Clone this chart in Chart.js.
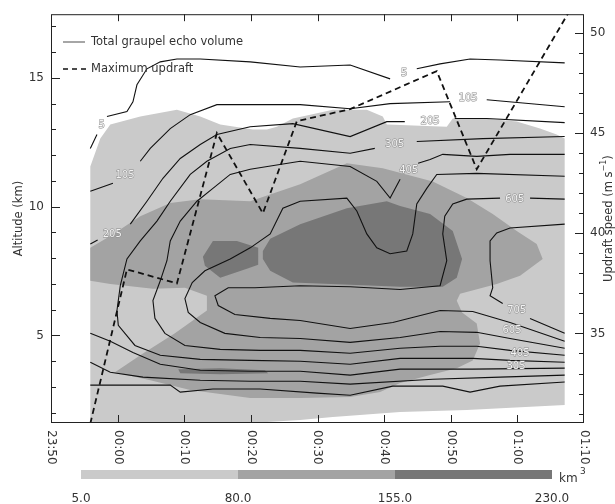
<!DOCTYPE html>
<html>
<head>
<meta charset="utf-8">
<script src="https://cdn.jsdelivr.net/npm/chart.js@4.4.1/dist/chart.umd.min.js"></script>
<style>
  html, body { margin: 0; padding: 0; background: #fff; }
</style>
</head>
<body>
<canvas id="myChart" width="615" height="504"></canvas>
<script>
// time axis in minutes after 23:50
const timeTicks = [0, 10, 20, 30, 40, 50, 60, 70, 80];
const timeLabels = ['23:50', '00:00', '00:10', '00:20', '00:30', '00:40', '00:50', '01:00', '01:10'];
const altitudeTicks = [5, 10, 15];
const updraftTicks = [35, 40, 45, 50];
const colorLevels = [5.0, 80.0, 155.0, 230.0];
const legendLabels = ['Total graupel echo volume', 'Maximum updraft'];

// maximum updraft (m/s)
const updraftTime = [5.9, 11.4, 18.9, 24.9, 31.8, 36.9, 44.9, 57.9, 63.9, 78];
const updraftSpeed = [30.5, 38.2, 37.5, 45.0, 41.0, 45.6, 46.2, 48.1, 43.2, 51.2];

// shaded graupel echo areas, [time, altitude km]
const lightArea = [[5.9,1.5],[5.9,11.56],[7.4,12.64],[8.9,13.19],[13.4,13.5],[18.9,13.76],[22.4,13.5],[25.4,13.19],[30.3,12.99],[32.4,12.99],[33.9,13.1],[36.3,13.42],[38.9,13.57],[42.3,13.76],[47.4,13.76],[49.8,13.5],[50.4,13.19],[59.4,13.1],[60.3,13.42],[64.8,13.42],[69.9,13.3],[73.4,13.03],[75.9,12.8],[77.1,12.64],[77.1,2.3],[62.4,2.1],[52.4,2.03],[42.3,1.83],[37.4,1.72],[29.9,1.6],[29.9,1.5],[5.9,1.5]];
const midArea = [[5.9,8.4],[8.9,8.86],[13.4,9.63],[17.9,10.14],[22.4,10.29],[29.9,10.21],[37.4,10.87],[44.4,11.68],[49.8,11.49],[57.3,10.98],[62.4,10.33],[66.3,9.71],[69.9,9.05],[72.9,8.55],[73.8,7.97],[70.4,7.32],[66.9,7.0],[61.4,6.62],[60.9,6.35],[61.7,5.89],[63.9,5.46],[64.4,4.69],[63.3,4.03],[60.9,3.73],[56.9,3.46],[52.4,3.15],[49.4,2.8],[44.9,2.61],[37.4,2.57],[29.9,2.57],[20.9,2.88],[14.9,3.26],[9.6,3.57],[13.4,4.23],[18.6,5.08],[23.4,5.97],[23.4,6.54],[20.1,6.85],[15.3,6.81],[8.9,7.0],[5.9,7.12],[5.9,8.4]];
const darkArea = [[31.8,8.28],[32.9,8.75],[37.4,9.32],[44.4,9.94],[50.4,10.21],[52.4,10.02],[56.9,9.71],[60.3,9.05],[61.7,7.97],[60.9,7.24],[58.8,6.89],[52.4,6.89],[44.9,6.97],[36.3,7.05],[32.9,7.51],[31.8,7.97],[31.8,8.28]];
const darkSmall = [[22.8,8.05],[24.3,8.67],[27.9,8.67],[31.1,8.4],[31.1,7.74],[29.4,7.59],[25.4,7.24],[23.1,7.7],[22.8,8.05]];
const darkStreak = [[19.1,3.69],[25.4,3.73],[32.1,3.65],[32.6,3.53],[25.4,3.49],[19.4,3.53],[19.1,3.69]];

// contour lines, null = break (label or separate piece)
const contour5 = [[5.9,12.26],[6.9,12.8],null,[8.4,13.5],[11.4,13.69],[12.3,14.07],[12.9,14.73],[14.4,15.35],[16.4,15.62],[18.9,15.73],[22.4,15.73],[29.9,15.62],[37.4,15.42],[44.9,15.5],[50.9,14.96],null,[54.9,15.35],[58.4,15.54],[62.9,15.73],[67.4,15.69],[77.1,15.58],
  null,[5.9,3.07],[17.9,3.07],[19.4,2.8],[24.3,2.92],[31.4,2.92],[39.9,2.76],[44.9,2.68],[51.3,3.03],[58.8,3.03],[62.9,2.8],[67.4,3.03],[77.1,3.19]];
const contour105 = [[5.9,10.6],[9.3,10.91],null,[13.4,11.76],[14.9,12.26],[17.9,13.03],[20.9,13.57],[24.9,13.96],[37.4,13.96],[44.9,13.8],[50.9,14.0],[59.9,14.07],null,[65.4,14.15],[77.1,13.88],
  null,[5.9,3.96],[8.9,3.57],[13.8,3.38],[22.4,3.26],[29.9,3.22],[37.4,3.22],[44.9,3.11],[57.3,3.3],[67.4,3.38],[77.1,3.46]];
const contour205 = [[5.9,8.55],[7.0,8.7],null,[11.9,9.32],[14.4,10.21],[16.8,11.1],[19.4,11.87],[22.4,12.41],[24.9,12.8],[29.9,13.1],[36.3,13.22],[44.9,12.72],[50.4,13.3],[53.1,13.3],null,[60.6,13.42],[65.4,13.42],[77.1,13.26],
  null,[5.9,5.08],[8.9,4.77],[12.3,4.34],[16.4,3.88],[22.4,3.65],[29.9,3.61],[37.4,3.61],[44.9,3.46],[52.4,3.69],[63.3,3.69],[77.1,3.73]];
const contour305 = [[77.1,12.72],[64.8,12.64],[54.9,12.53],null,[48.6,12.26],[44.9,12.07],[37.4,12.26],[29.9,12.41],[26.9,12.26],[23.4,11.76],[20.9,11.25],[17.9,10.21],[15.9,9.44],[13.4,8.67],[11.4,7.97],[10.4,6.93],[9.9,5.97],[10.1,5.39],[12.6,4.61],[16.4,4.23],[22.4,4.07],[29.9,4.03],[37.4,4.0],[44.9,3.88],[52.4,4.11],[63.3,4.11],[68.9,4.03],[77.1,3.96]];
const contour405 = [[77.1,12.03],[68.9,12.03],[63.9,11.95],[58.8,12.03],[56.9,11.83],[55.1,11.68],null,[52.4,11.06],[50.9,10.33],[48.9,10.98],[44.9,11.56],[37.4,11.76],[29.9,11.45],[26.9,11.25],[24.3,10.71],[21.9,10.21],[19.4,9.44],[17.9,8.67],[17.4,7.9],[16.4,7.12],[15.3,6.35],[15.6,5.66],[17.1,5.08],[20.1,4.61],[25.4,4.46],[31.4,4.42],[37.4,4.42],[44.9,4.31],[52.4,4.5],[58.4,4.58],[63.9,4.58],[68.9,4.42],[77.1,4.23]];
const contour505 = [[77.1,11.18],[63.9,11.29],[57.9,11.25],[56.4,10.71],[54.9,10.1],[54.3,8.94],[53.4,8.28],[50.9,8.17],[48.9,8.4],[47.4,8.94],[45.9,9.83],[44.4,10.33],[37.4,10.21],[34.8,9.94],[32.9,8.94],[29.9,8.4],[26.9,7.97],[23.1,7.51],[21.2,7.05],[20.1,6.43],[20.6,5.89],[22.4,5.5],[26.1,5.08],[31.4,4.92],[37.4,4.88],[44.9,4.73],[52.4,4.92],[58.4,5.15],[63.9,5.12],[68.9,4.88],[77.1,4.5]];
const contour605 = [[77.1,10.29],[71.9,10.33],null,[67.4,10.33],[62.4,10.29],[60.3,10.1],[59.1,9.63],[58.8,8.94],[59.4,7.9],[58.4,6.93],[52.4,6.78],[44.9,6.89],[37.4,6.93],[30.6,6.85],[26.6,6.85],[24.6,6.54],[25.1,6.16],[27.6,5.81],[32.9,5.66],[37.4,5.58],[44.9,5.27],[51.3,5.5],[58.4,5.97],[63.3,5.93],[68.9,5.5],[77.1,4.77]];
const contour705 = [[77.1,9.32],[68.9,9.17],[66.9,8.98],[65.9,8.67],[65.9,7.9],[66.3,6.85],[65.9,6.54],[67.8,6.24],null,[71.9,5.66],[77.1,5.08]];

// contour labels: [text, time, altitude]
const contourLabels = [
  ['5', 7.6, 13.15], ['105', 11.1, 11.22], ['205', 9.2, 8.94],
  ['5', 53.0, 15.19], ['105', 62.6, 14.19], ['205', 56.9, 13.3], ['305', 51.6, 12.41], ['405', 53.7, 11.41],
  ['605', 69.6, 10.29], ['705', 69.9, 5.97], ['605', 69.2, 5.2], ['405', 70.4, 4.3], ['305', 69.8, 3.8]
];

const shadeColors = ['#cacaca', '#a3a3a3', '#777777'];
const FONT = '"DejaVu Sans", sans-serif';

function toPoints(list) {
  let pts = [];
  let last = 0;
  for (let i = 0; i < list.length; i++) {
    let p = list[i];
    if (p === null) {
      pts.push({x: last, y: null});
    } else {
      pts.push({x: p[0], y: p[1]});
      last = p[0];
    }
  }
  return pts;
}

function shade(data, color, order) {
  return {
    data: toPoints(data), yAxisID: 'y', order: order,
    fill: 'shape', backgroundColor: color, borderWidth: 0, borderColor: color,
    pointRadius: 0, tension: 0
  };
}

function contour(data) {
  return {
    data: toPoints(data), yAxisID: 'y', order: 10,
    fill: false, borderColor: '#111', borderWidth: 1.1,
    pointRadius: 0, tension: 0, spanGaps: false
  };
}

let updraftPoints = [];
for (let i = 0; i < updraftTime.length; i++) {
  updraftPoints.push({x: updraftTime[i], y: updraftSpeed[i]});
}

const extras = {
  id: 'extras',
  afterDatasetsDraw(chart) {
    const ctx = chart.ctx;
    const a = chart.chartArea;
    const xs = chart.scales.x, ys = chart.scales.y, y2 = chart.scales.y2;
    ctx.save();

    // contour labels
    ctx.font = '10px ' + FONT;
    ctx.textAlign = 'center';
    ctx.textBaseline = 'middle';
    contourLabels.forEach(l => {
      const px = xs.getPixelForValue(l[1]), py = ys.getPixelForValue(l[2]);
      ctx.lineWidth = 1;
      ctx.strokeStyle = '#8c8c8c';
      ctx.strokeText(l[0], px, py);
      ctx.fillStyle = '#f2f2f2';
      ctx.fillText(l[0], px, py);
    });

    // frame
    ctx.strokeStyle = '#222';
    ctx.lineWidth = 1;
    ctx.strokeRect(a.left + 0.5, a.top + 0.5, a.right - a.left - 1, a.bottom - a.top - 1);

    // tick marks (inside)
    ctx.beginPath();
    for (let v = 2; v <= 17; v++) {
      const py = Math.round(ys.getPixelForValue(v)) + 0.5;
      const len = v % 5 === 0 ? 9 : 5;
      ctx.moveTo(a.left, py); ctx.lineTo(a.left + len, py);
    }
    for (let v = 31; v <= 50; v++) {
      const py = Math.round(y2.getPixelForValue(v)) + 0.5;
      const len = v % 5 === 0 ? 9 : 5;
      ctx.moveTo(a.right, py); ctx.lineTo(a.right - len, py);
    }
    timeTicks.slice(1, -1).forEach(t => {
      const px = Math.round(xs.getPixelForValue(t)) + 0.5;
      ctx.moveTo(px, a.bottom); ctx.lineTo(px, a.bottom - 8);
      ctx.moveTo(px, a.top); ctx.lineTo(px, a.top + 7);
    });
    ctx.stroke();

    // time labels, rotated
    ctx.fillStyle = '#333';
    ctx.font = '12px ' + FONT;
    ctx.textAlign = 'left';
    ctx.textBaseline = 'middle';
    timeTicks.forEach((t, i) => {
      ctx.save();
      ctx.translate(xs.getPixelForValue(t), a.bottom + 7);
      ctx.rotate(Math.PI / 2);
      ctx.fillText(timeLabels[i], 0, 0);
      ctx.restore();
    });

    // axis titles
    const midY = (a.top + a.bottom) / 2;
    ctx.save();
    ctx.translate(19, midY);
    ctx.rotate(-Math.PI / 2);
    ctx.textAlign = 'center';
    ctx.font = '11.5px ' + FONT;
    ctx.fillText('Altitude (km)', 0, 0);
    ctx.restore();

    ctx.save();
    ctx.translate(609, midY);
    ctx.rotate(-Math.PI / 2);
    ctx.font = '11.5px ' + FONT;
    const t1 = 'Updraft speed (m s', t2 = '\u22121', t3 = ')';
    const w1 = ctx.measureText(t1).width;
    const w3 = ctx.measureText(t3).width;
    ctx.font = '8px ' + FONT;
    const w2 = ctx.measureText(t2).width;
    let sx = -(w1 + w2 + w3) / 2;
    ctx.textAlign = 'left';
    ctx.font = '11.5px ' + FONT;
    ctx.fillText(t1, sx, 0);
    ctx.font = '8px ' + FONT;
    ctx.fillText(t2, sx + w1, -5);
    ctx.font = '11.5px ' + FONT;
    ctx.fillText(t3, sx + w1 + w2, 0);
    ctx.restore();

    // legend
    ctx.lineWidth = 1.5;
    ctx.strokeStyle = '#888';
    ctx.beginPath(); ctx.moveTo(63, 42); ctx.lineTo(85, 42); ctx.stroke();
    ctx.strokeStyle = '#111';
    ctx.setLineDash([5, 4]);
    ctx.beginPath(); ctx.moveTo(63, 69); ctx.lineTo(86, 69); ctx.stroke();
    ctx.setLineDash([]);
    ctx.font = '11.5px ' + FONT;
    ctx.fillStyle = '#333';
    ctx.textAlign = 'left';
    ctx.fillText(legendLabels[0], 91, 42);
    ctx.fillText(legendLabels[1], 91, 69);

    // colour bar
    const barL = 81, barR = 552, barT = 470, barH = 9;
    const lo = colorLevels[0], hi = colorLevels[colorLevels.length - 1];
    const bx = v => barL + (v - lo) / (hi - lo) * (barR - barL);
    for (let i = 0; i < colorLevels.length - 1; i++) {
      ctx.fillStyle = shadeColors[i];
      ctx.fillRect(bx(colorLevels[i]), barT, bx(colorLevels[i + 1]) - bx(colorLevels[i]), barH);
    }
    ctx.fillStyle = '#333';
    ctx.font = '12px ' + FONT;
    ctx.textAlign = 'center';
    colorLevels.forEach(v => ctx.fillText(v.toFixed(1), bx(v), 499));
    ctx.textAlign = 'left';
    ctx.fillText('km', 559, 479);
    ctx.font = '9px ' + FONT;
    ctx.fillText('3', 580, 472);

    ctx.restore();
  }
};

const ctx = document.getElementById('myChart').getContext('2d');
const myChart = new Chart(ctx, {
  type: 'line',
  data: {
    datasets: [
      shade(lightArea, shadeColors[0], 50),
      shade(midArea, shadeColors[1], 40),
      shade(darkArea, shadeColors[2], 30),
      shade(darkSmall, shadeColors[2], 30),
      shade(darkStreak, shadeColors[2], 30),
      contour(contour5),
      contour(contour105),
      contour(contour205),
      contour(contour305),
      contour(contour405),
      contour(contour505),
      contour(contour605),
      contour(contour705),
      {
        data: updraftPoints, yAxisID: 'y2', order: 1,
        fill: false, borderColor: '#111', borderWidth: 1.8, borderDash: [6, 4],
        pointRadius: 0, tension: 0
      }
    ]
  },
  options: {
    responsive: false,
    animation: false,
    layout: { padding: { top: 12, left: 0, right: 0, bottom: 0 } },
    plugins: { legend: { display: false }, tooltip: { enabled: false } },
    scales: {
      x: {
        type: 'linear', min: 0, max: 80,
        ticks: { display: false },
        grid: { display: false, drawTicks: false },
        border: { display: false },
        afterFit: s => { s.height = 81; }
      },
      y: {
        type: 'linear', position: 'left', min: 1.6, max: 17.47,
        afterBuildTicks: s => { s.ticks = altitudeTicks.map(v => ({value: v})); },
        ticks: { padding: 7, color: '#333', font: { family: 'DejaVu Sans', size: 12 } },
        grid: { display: false, drawTicks: false },
        border: { display: false },
        afterFit: s => { s.width = 51; }
      },
      y2: {
        type: 'linear', position: 'right', min: 30.53, max: 50.94,
        afterBuildTicks: s => { s.ticks = updraftTicks.map(v => ({value: v})); },
        ticks: { padding: 6, color: '#333', font: { family: 'DejaVu Sans', size: 12 } },
        grid: { display: false, drawTicks: false },
        border: { display: false },
        afterFit: s => { s.width = 31; }
      }
    }
  },
  plugins: [extras]
});
</script>
</body>
</html>
